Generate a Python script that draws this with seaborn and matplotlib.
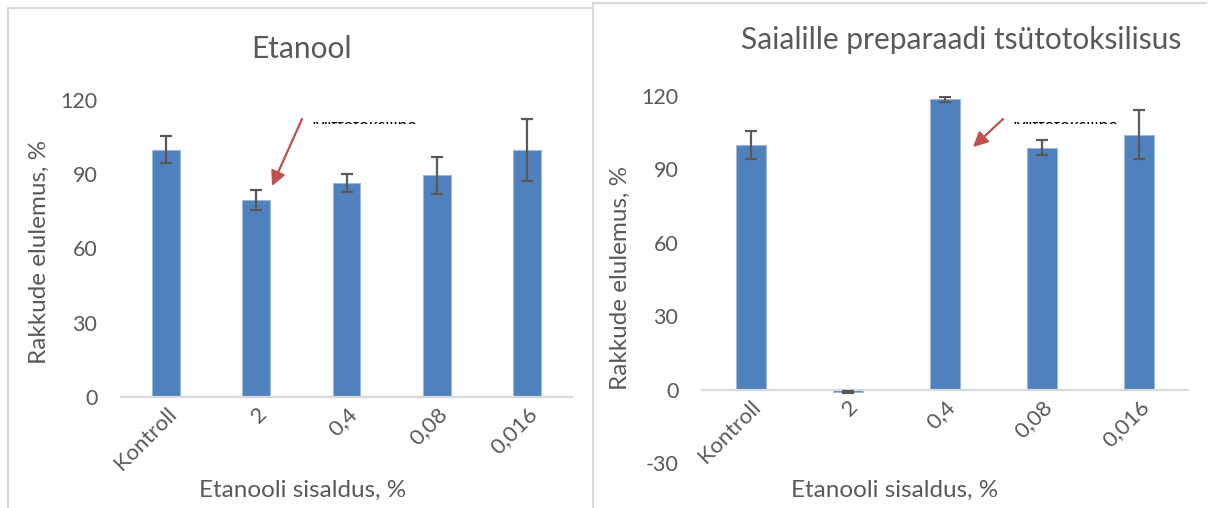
import numpy as np
import matplotlib
matplotlib.use("Agg")
import matplotlib.pyplot as plt
import seaborn as sns
from matplotlib.lines import Line2D
from matplotlib.transforms import Bbox, TransformedBbox

# ---- data ----
categories = ["Kontroll", "2", "0,4", "0,08", "0,016"]
etanool_values = [100.0, 79.6, 86.3, 89.6, 99.8]
etanool_errors = [5.5, 4.0, 3.6, 7.4, 12.5]
saialill_values = [99.9, -1.0, 118.6, 98.9, 104.2]
saialill_errors = [5.6, 0.4, 1.0, 3.0, 10.0]
etanool_yticks = [0, 30, 60, 90, 120]
saialill_yticks = [-30, 0, 30, 60, 90, 120]
title_left = "Etanool"
title_right = "Saialille preparaadi tsütotoksilisus"
xlabel = "Etanooli sisaldus, %"
ylabel = "Rakkude elulemus, %"
note_text = "Mittetoksiline"

sns.set_theme(style="white")
plt.rcParams["font.family"] = ["Lato", "DejaVu Sans"]

W, H = 1208, 508
fig = plt.figure(figsize=(W / 100, H / 100), dpi=100)
fig.patch.set_facecolor("white")

TXT = "#595959"
BAR = "#4F81BD"
AX = "#D9D9D9"
ERR = "#595959"
RED = "#C0504D"

TICK_FS = 15.5
XT_FS = 16
LAB_FS = 17.5
TITLE_FS = 21.5


def px_axes(x0, x1, ytop, ybot):
    return fig.add_axes([x0 / W, 1 - ybot / H, (x1 - x0) / W, (ybot - ytop) / H])


def style(ax, cats, vals, errs, ylim, yticks, zero_spine):
    sns.barplot(x=cats, y=vals, ax=ax, color=BAR, width=0.31, errorbar=None,
                saturation=1, edgecolor="#9DB7DA", linewidth=0.8)
    ax.errorbar(np.arange(len(cats)), vals, yerr=errs, fmt="none",
                ecolor=ERR, elinewidth=1.6, capsize=4.4, capthick=1.6, zorder=5)
    ax.set_ylim(*ylim)
    ax.set_xlim(-0.5, len(cats) - 0.5)
    ax.set_yticks(yticks)
    ax.set_yticklabels([str(v) for v in yticks], fontsize=TICK_FS, color=TXT)
    for s in ["top", "right", "left"]:
        ax.spines[s].set_visible(False)
    ax.spines["bottom"].set_color(AX)
    ax.spines["bottom"].set_linewidth(1.6)
    if zero_spine:
        ax.spines["bottom"].set_position(("data", 0))
    ax.tick_params(axis="both", length=0)
    ax.tick_params(axis="y", pad=17)
    ax.tick_params(axis="x", pad=5)
    ax.set_xticks(np.arange(len(cats)))
    ax.set_xticklabels(cats, rotation=45, ha="right", rotation_mode="anchor",
                       fontsize=XT_FS, color=TXT)
    ax.grid(False)
    ax.set_facecolor("none")


# left chart
ax1 = px_axes(121, 572, 100, 397)
style(ax1, categories, etanool_values, etanool_errors, (0, 120), etanool_yticks, False)
ax1.set_ylabel(ylabel, fontsize=LAB_FS, color=TXT)
ax1.yaxis.set_label_coords((50 - 121) / 451, (397 - 252) / 297)
ax1.set_xlabel(xlabel, fontsize=LAB_FS, color=TXT)
ax1.xaxis.set_label_coords((303 - 121) / 451, (397 - 480) / 297)

# right chart
ax2 = px_axes(702, 1188, 96, 463)
style(ax2, categories, saialill_values, saialill_errors, (-30, 120), saialill_yticks, True)
ax2.set_ylabel(ylabel, fontsize=LAB_FS, color=TXT)
ax2.yaxis.set_label_coords((631 - 702) / 486, (463 - 278) / 367)
ax2.set_xlabel(xlabel, fontsize=LAB_FS, color=TXT)
ax2.xaxis.set_label_coords((895 - 702) / 486, (463 - 480) / 367)

# titles
fig.text(301 / W, 1 - 49 / H, title_left, ha="center", va="center", fontsize=TITLE_FS, color=TXT)
fig.text(961 / W, 1 - 40 / H, title_right, ha="center", va="center", fontsize=TITLE_FS, color=TXT)

# arrows and clipped note text (only the top sliver of the text is visible)
for (sx, sy), (tx, ty), tx0 in [((302, 119), (272, 186), 311), ((1003, 119), (973, 147), 1012)]:
    fig.add_artist(matplotlib.patches.FancyArrowPatch(
        (sx / W, 1 - sy / H), (tx / W, 1 - ty / H), transform=fig.transFigure,
        arrowstyle="-|>", mutation_scale=22, color=RED, lw=1.6,
        shrinkA=0, shrinkB=0))
    t = fig.text(tx0 / W, 1 - 118 / H, note_text, ha="left", va="top",
                 fontsize=12.5, color="black")
    clip = TransformedBbox(Bbox.from_extents((tx0 - 2) / W, 1 - 123.5 / H,
                                              (tx0 + 110) / W, 1 - 121.5 / H),
                           fig.transFigure)
    t.set_clip_box(clip)
    t.set_clip_on(True)

# chart area borders
def fline(x0, y0, x1, y1):
    fig.add_artist(Line2D([x0 / W, x1 / W], [1 - y0 / H, 1 - y1 / H],
                          transform=fig.transFigure, color=AX, lw=1.5))

fline(8, 8, 593, 8)
fline(8, 8, 8, 508)
fline(593, 3, 593, 508)
fline(593, 3, 1206, 3)

fig.savefig("out.png", dpi=100, facecolor="white")
